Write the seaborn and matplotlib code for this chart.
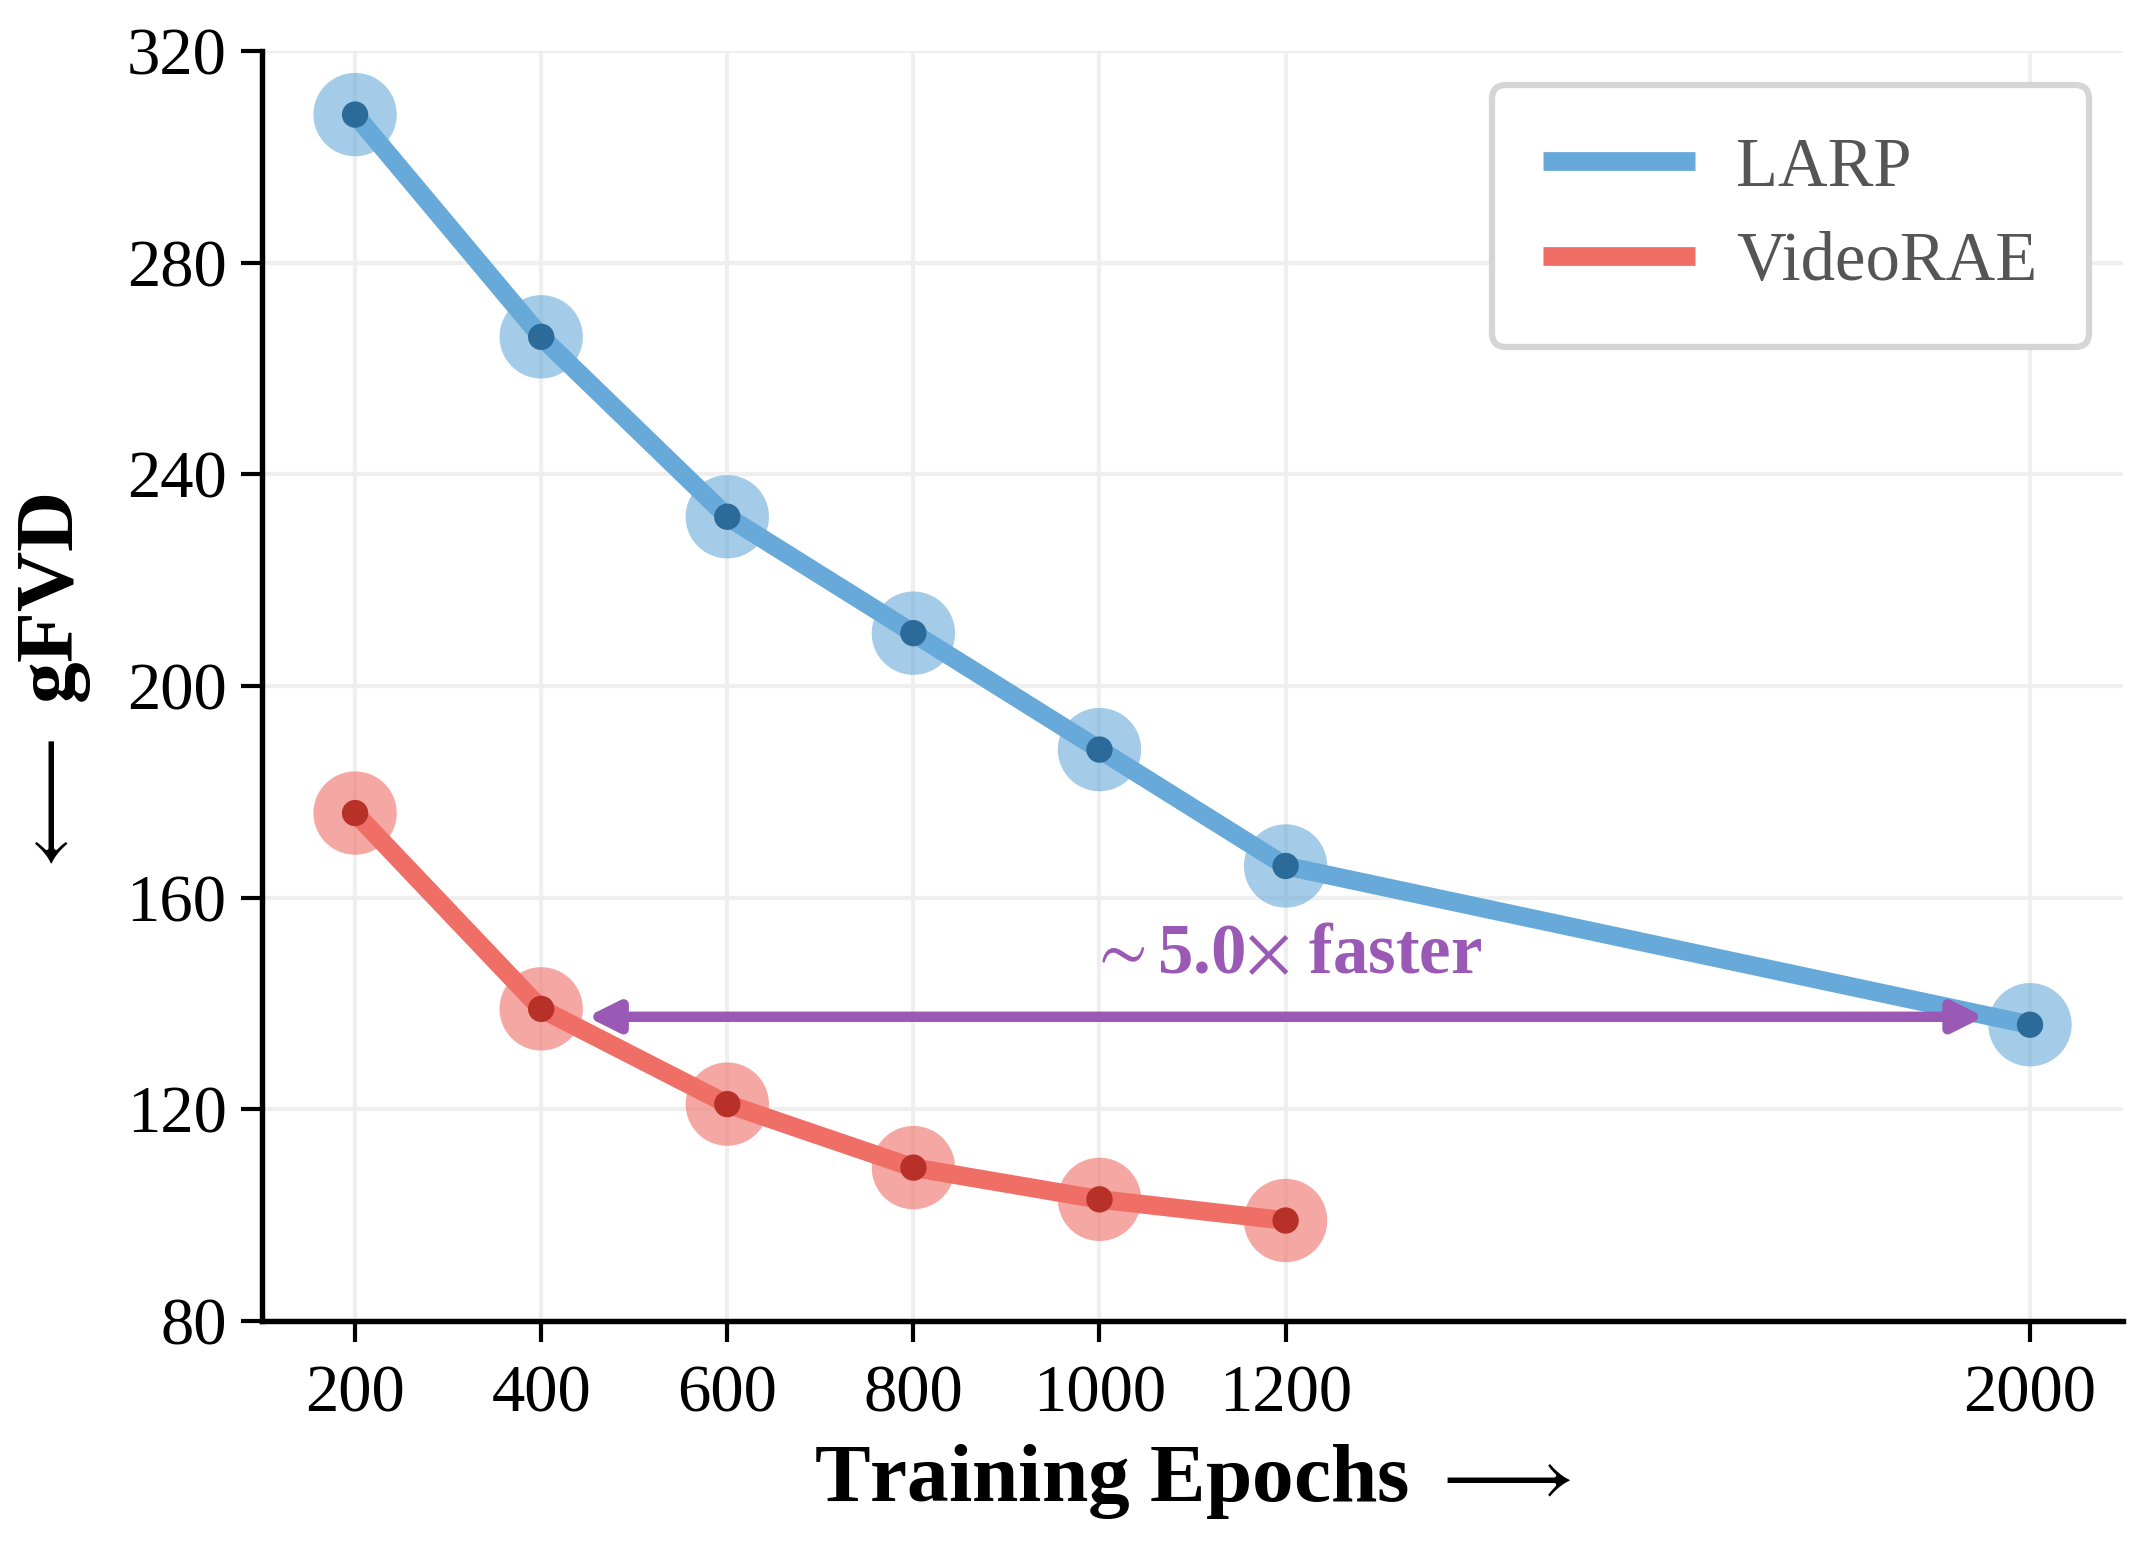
import pandas as pd
import matplotlib
matplotlib.use("Agg")
import matplotlib.pyplot as plt
import seaborn as sns

# data
epochs_larp = [200, 400, 600, 800, 1000, 1200, 2000]
gfvd_larp = [308, 266, 232, 210, 188, 166, 136]
epochs_rae = [200, 400, 600, 800, 1000, 1200]
gfvd_rae = [176, 139, 121, 109, 103, 99]

x_ticks = [200, 400, 600, 800, 1000, 1200, 2000]
y_ticks = [80, 120, 160, 200, 240, 280, 320]

speedup_text = r"$\sim$5.0$\times$ faster"

line_colors = {"LARP": "#67a9d9", "VideoRAE": "#ef6f66"}
dot_colors = {"LARP": "#2c6a9a", "VideoRAE": "#b83128"}
purple = "#9b59b6"

df = pd.concat([
    pd.DataFrame({"epoch": epochs_larp, "gfvd": gfvd_larp, "model": "LARP"}),
    pd.DataFrame({"epoch": epochs_rae, "gfvd": gfvd_rae, "model": "VideoRAE"}),
], ignore_index=True)

sns.set_theme(style="ticks")
plt.rcParams["font.family"] = ["Liberation Serif", "DejaVu Serif"]
plt.rcParams["mathtext.fontset"] = "stix"
plt.rcParams["text.color"] = "black"
plt.rcParams["axes.labelcolor"] = "black"

fig = plt.figure(figsize=(2153 / 300, 1548 / 300), dpi=300)
ax = fig.add_axes([0.1217, 0.1466, 0.8644, 0.8204])

ax.grid(True, color="#efefef", lw=1.0)
ax.set_axisbelow(True)

# big translucent halos, then the lines, then the small dark dots
sns.scatterplot(data=df, x="epoch", y="gfvd", hue="model", palette=line_colors,
                s=400, alpha=0.6, edgecolor="none", legend=False, ax=ax, zorder=2)
sns.lineplot(data=df, x="epoch", y="gfvd", hue="model", palette=line_colors,
             lw=4.5, ax=ax, zorder=3)
sns.scatterplot(data=df, x="epoch", y="gfvd", hue="model", palette=dot_colors,
                s=40, edgecolor="none", legend=False, ax=ax, zorder=4)

# speed-up arrow between VideoRAE@400 and LARP@2000
arrow_y = (gfvd_rae[1] + gfvd_larp[-1]) / 2
ax.annotate("", xy=(epochs_larp[-1], arrow_y), xytext=(epochs_rae[1], arrow_y),
            arrowprops=dict(arrowstyle="<|-|>", color=purple, lw=2.5,
                            mutation_scale=15, shrinkA=11, shrinkB=11),
            zorder=5)
ax.text(1200, arrow_y + 11.5, speedup_text, color=purple, fontsize=17,
        fontweight="bold", ha="center", va="center", zorder=6)

ax.set_xlim(100, 2100)
ax.set_ylim(80, 320)
ax.set_xticks(x_ticks)
ax.set_yticks(y_ticks)
ax.tick_params(axis="both", labelsize=16, length=5, width=1.0,
               direction="out", colors="black")
ax.tick_params(axis="x", pad=5.5)
ax.tick_params(axis="y", pad=3.5)
for side in ["left", "bottom"]:
    ax.spines[side].set_linewidth(1.3)
    ax.spines[side].set_color("black")
sns.despine(ax=ax)

ax.set_xlabel(r"Training Epochs $\longrightarrow$", fontsize=20,
              fontweight="bold", labelpad=4)
ax.set_ylabel(r"$\longleftarrow$ gFVD", fontsize=20, fontweight="bold",
              labelpad=8)

handles, labels = ax.get_legend_handles_labels()
leg = ax.legend(handles, labels, loc="upper right", fontsize=16.5,
                frameon=True, fancybox=True, framealpha=1,
                edgecolor="#d5d5d5", borderpad=0.75, labelspacing=0.45,
                handlelength=2.2, handletextpad=0.6, borderaxespad=0.5)
leg.get_frame().set_linewidth(1.5)
for line in leg.get_lines():
    line.set_solid_capstyle("butt")
for t in leg.get_texts():
    t.set_color("#555555")

fig.savefig("out.png", dpi=300)
